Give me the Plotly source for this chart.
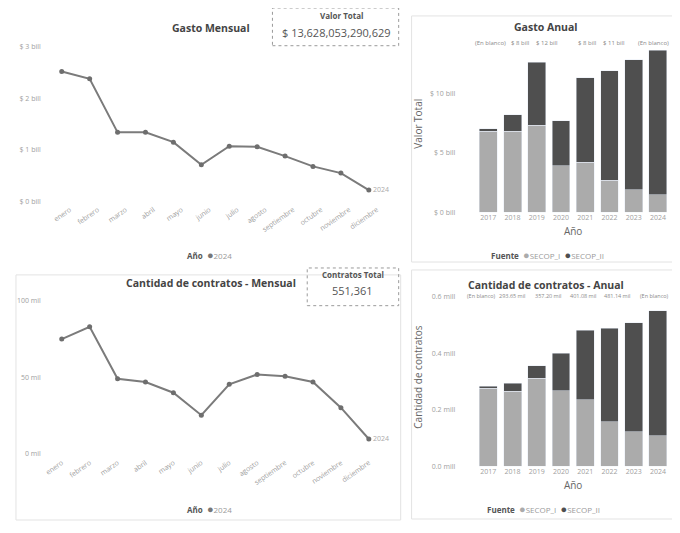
import plotly.graph_objects as go

# the page body has an 8px margin, so the figure is drawn 8px in from the corner
OFF = 8
W, H = 680 - OFF, 533 - 2 * OFF

# datos mensuales 2024
meses = ["enero", "febrero", "marzo", "abril", "mayo", "junio", "julio",
         "agosto", "septiembre", "octubre", "noviembre", "diciembre"]
gasto_mensual = [2.52, 2.38, 1.34, 1.34, 1.15, 0.71, 1.07, 1.06, 0.88, 0.68, 0.55, 0.22]  # bill
contratos_mensual = [74.9, 82.9, 48.9, 46.8, 39.8, 25.1, 45.3, 51.7, 50.6, 46.8, 30.0, 9.5]  # mil
etiqueta_fin = ["", "", "", "", "", "", "", "", "", "", "", "2024"]

# datos anuales por fuente
anios = ["2017", "2018", "2019", "2020", "2021", "2022", "2023", "2024"]
gasto_secop_i = [6.8, 6.8, 7.3, 3.9, 4.2, 2.7, 1.9, 1.5]
gasto_secop_ii = [0.2, 1.4, 5.3, 3.8, 7.1, 9.2, 10.9, 12.1]
contratos_secop_i = [0.277, 0.266, 0.312, 0.267, 0.236, 0.158, 0.123, 0.108]
contratos_secop_ii = [0.006, 0.028, 0.045, 0.134, 0.245, 0.331, 0.386, 0.443]

# ejes
ticks_gasto_m = ["$ 0 bill", "$ 1 bill", "$ 2 bill", "$ 3 bill"]
ticks_gasto_a = ["$ 0 bill", "$ 5 bill", "$ 10 bill"]
ticks_contr_m = ["0 mil", "50 mil", "100 mil"]
ticks_contr_a = ["0.0 mill", "0.2 mill", "0.4 mill", "0.6 mill"]

# etiquetas que aparecen en la fila superior de las barras
etiquetas_gasto = ["(En blanco)", "$ 8 bill", "$ 12 bill", "$ 8 bill", "$ 11 bill", "(En blanco)"]
etiquetas_contratos = ["(En blanco)", "293.65 mil", "357.20 mil", "401.08 mil", "481.14 mil", "(En blanco)"]

valor_total = "$ 13,628,053,290,629"
contratos_total = "551,361"

C_LINE = "#7b7b7b"
C_I = "#ababab"
C_II = "#4f4f4f"
TICK = dict(size=7, color="#a0a0a0")
FONT = "Open Sans, Noto Sans, sans-serif"


def px_x(x0, x1):
    return [(x0 - OFF) / W, (x1 - OFF) / W]


def px_y(y0, y1):
    return [1 - (y1 - OFF) / H, 1 - (y0 - OFF) / H]


fig = go.Figure()

# --- Gasto Mensual (linea)
fig.add_trace(go.Scatter(x=meses, y=gasto_mensual, mode="lines+markers+text",
                         text=etiqueta_fin, textposition="middle right",
                         textfont=dict(size=7, color="#aaaaaa"), cliponaxis=False,
                         line=dict(color=C_LINE, width=2),
                         marker=dict(size=5, color="#6e6e6e"),
                         showlegend=False, xaxis="x", yaxis="y"))

# --- Gasto Anual (barras)
fig.add_trace(go.Bar(x=anios, y=gasto_secop_i, marker_color=C_I, name="SECOP_I",
                     showlegend=False, xaxis="x2", yaxis="y2"))
fig.add_trace(go.Bar(x=anios, y=gasto_secop_ii, marker_color=C_II, name="SECOP_II",
                     showlegend=False, xaxis="x2", yaxis="y2"))

# --- Cantidad de contratos - Mensual
fig.add_trace(go.Scatter(x=meses, y=contratos_mensual, mode="lines+markers+text",
                         text=etiqueta_fin, textposition="middle right",
                         textfont=dict(size=7, color="#aaaaaa"), cliponaxis=False,
                         line=dict(color=C_LINE, width=2),
                         marker=dict(size=5, color="#6e6e6e"),
                         showlegend=False, xaxis="x3", yaxis="y3"))

# --- Cantidad de contratos - Anual
fig.add_trace(go.Bar(x=anios, y=contratos_secop_i, marker_color=C_I, name="SECOP_I",
                     showlegend=False, xaxis="x4", yaxis="y4"))
fig.add_trace(go.Bar(x=anios, y=contratos_secop_ii, marker_color=C_II, name="SECOP_II",
                     showlegend=False, xaxis="x4", yaxis="y4"))

month_x = dict(type="category", range=[-0.5, 11.5], tickangle=-35, tickfont=TICK,
               showgrid=False, zeroline=False, showline=False, ticks="")
year_x = dict(type="category", range=[-0.5, 7.5], tickfont=TICK, showgrid=False,
              zeroline=False, showline=False, ticks="",
              title=dict(text="Año", font=dict(size=10, color="#666666"), standoff=6))
y_common = dict(tickfont=TICK, showgrid=False, zeroline=False, tickmode="array")

fig.update_layout(
    width=W, height=H, margin=dict(l=0, r=0, t=0, b=0),
    paper_bgcolor="white", plot_bgcolor="white",
    font=dict(family=FONT, color="#555555"),
    barmode="stack", bargap=0.26, showlegend=False,
    xaxis=dict(month_x, domain=px_x(44, 381), anchor="y", ticklabelshift=8),
    yaxis=dict(y_common, domain=px_y(30, 205), range=[-0.04, 3.33],
               tickvals=[0, 1, 2, 3], ticktext=ticks_gasto_m,
               ticklabelstandoff=6, anchor="x"),
    xaxis2=dict(year_x, domain=px_x(475, 670), anchor="y2"),
    yaxis2=dict(y_common, domain=px_y(35, 214), range=[0, 14.9],
                tickvals=[0, 5, 10], ticktext=ticks_gasto_a,
                ticklabelstandoff=20, anchor="x2"),
    xaxis3=dict(month_x, domain=px_x(44, 381), anchor="y3"),
    yaxis3=dict(y_common, domain=px_y(285, 460), range=[-1.95, 111.7],
                tickvals=[0, 50, 100], ticktext=ticks_contr_m,
                ticklabelstandoff=6, anchor="x3"),
    xaxis4=dict(year_x, domain=px_x(475, 670), anchor="y4"),
    yaxis4=dict(y_common, domain=px_y(290, 470), range=[0, 0.632],
                tickvals=[0, 0.2, 0.4, 0.6], ticktext=ticks_contr_a,
                ticklabelstandoff=20, anchor="x4"),
)


def box(x0, y0, x1, y1, color="#e3e3e3", dash="solid"):
    fig.add_shape(type="rect", xref="paper", yref="paper",
                  x0=(x0 - OFF) / W, x1=(x1 - OFF) / W,
                  y0=1 - (y1 - OFF) / H, y1=1 - (y0 - OFF) / H,
                  line=dict(color=color, width=1, dash=dash), layer="below")


def note(x, y, text, size, color="#555555", angle=0):
    fig.add_annotation(x=(x - OFF) / W, y=1 - (y - OFF) / H, xref="paper", yref="paper",
                       text=text, showarrow=False, textangle=angle,
                       font=dict(size=size, color=color), xanchor="center", yanchor="middle")


# marcos de paneles
box(410, 16, 679, 264)
box(410, 272, 679, 523)
box(12, 277, 399, 524)
# tarjetas
box(270, 8, 397, 46, color="#9a9a9a", dash="dot")
box(305, 270, 397, 308, color="#9a9a9a", dash="dot")

# titulos
note(208, 28, "<b>Gasto Mensual</b>", 10.5, "#444444")
note(545, 27, "<b>Gasto Anual</b>", 10.5, "#444444")
note(208, 285, "<b>Cantidad de contratos - Mensual</b>", 10.5, "#444444")
note(545, 287, "<b>Cantidad de contratos - Anual</b>", 10.5, "#444444")

# tarjetas
note(339, 16, "<b>Valor Total</b>", 8, "#555555")
note(334, 33, valor_total, 11, "#555555")
note(351, 277, "<b>Contratos Total</b>", 8, "#555555")
note(351, 293, contratos_total, 11, "#555555")

# titulos de ejes y
note(417, 125, "Valor Total", 10, "#666666", angle=-90)
note(417, 380, "Cantidad de contratos", 10, "#666666", angle=-90)

# fila de etiquetas sobre las barras
for x, t in zip([489, 519, 546, 586, 614, 653], etiquetas_gasto):
    note(x, 43, t, 6, "#8a8a8a")
for x, t in zip([480, 511, 547, 582, 617, 654], etiquetas_contratos):
    note(x, 298, t, 5.5, "#8a8a8a")

# leyendas
dot = "<span style='color:{};font-size:11px'>●</span>"
item = "<span style='color:#9a9a9a'>{}</span>"
leg_anio = "<b>Año</b>  " + dot.format("#777777") + item.format("2024")
note(207, 256, leg_anio, 8, "#555555")
note(207, 512, leg_anio, 8, "#555555")
leg_fuente = ("<b>Fuente</b>  " + dot.format(C_I) + item.format("SECOP_I") + "  "
              + dot.format(C_II) + item.format("SECOP_II"))
note(547, 256, leg_fuente, 8, "#555555")
note(543, 512, leg_fuente, 8, "#555555")

fig.write_html("out.html")
